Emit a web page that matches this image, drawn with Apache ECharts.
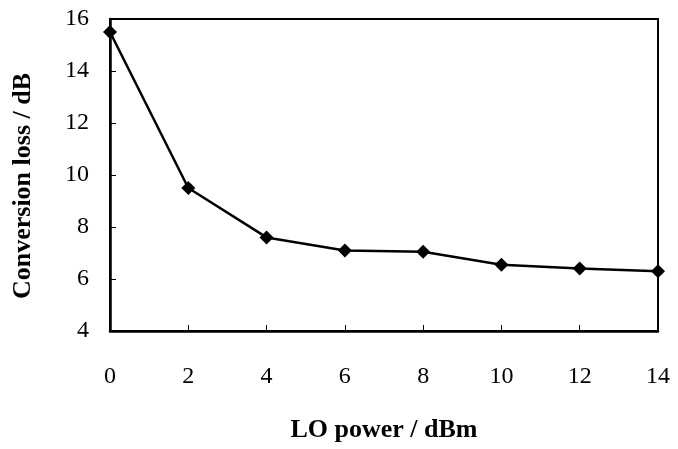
<!DOCTYPE html>
<html><head><meta charset="utf-8">
<script src="https://cdn.jsdelivr.net/npm/echarts@6/dist/echarts.min.js"></script>
<style>html,body{margin:0;padding:0;background:#fff}#c{width:678px;height:449px}</style>
</head><body><div id="c"></div>
<script>
const loPower = [0, 2, 4, 6, 8, 10, 12, 14];
const convLoss = [15.5, 9.5, 7.6, 7.1, 7.05, 6.55, 6.4, 6.3];
const xTitle = 'LO power / dBm';
const yTitle = 'Conversion loss / dB';

const chart = echarts.init(document.getElementById('c'));
const serif = 'Liberation Serif';
chart.setOption({
  backgroundColor: '#fff',
  animation: false,
  grid: { left: 110, right: 20, top: 19, bottom: 118, show: true, borderColor: '#000', borderWidth: 2,
          containLabel: false, outerBoundsMode: 'none' },
  xAxis: {
    type: 'value', min: 0, max: 14, interval: 2,
    name: xTitle, nameLocation: 'middle', nameGap: 86,
    nameTextStyle: { fontFamily: serif, fontSize: 26, fontWeight: 'bold', color: '#000' },
    axisLine: { lineStyle: { color: '#000', width: 2.5 } },
    axisTick: { inside: true, length: 6, lineStyle: { color: '#000' } },
    axisLabel: { fontFamily: serif, fontSize: 24, color: '#000', margin: 34 },
    splitLine: { show: false }
  },
  yAxis: {
    type: 'value', min: 4, max: 16, interval: 2,
    name: yTitle, nameLocation: 'middle', nameGap: 74,
    nameTextStyle: { fontFamily: serif, fontSize: 26, fontWeight: 'bold', color: '#000', padding: [0, 22, 0, 0] },
    axisLine: { lineStyle: { color: '#000', width: 2.5 } },
    axisTick: { inside: true, length: 6, lineStyle: { color: '#000' } },
    axisLabel: { fontFamily: serif, fontSize: 24, color: '#000', margin: 21 },
    splitLine: { show: false }
  },
  series: [{
    type: 'line',
    data: loPower.map((x, i) => [x, convLoss[i]]),
    symbol: 'diamond', symbolSize: 14,
    itemStyle: { color: '#000' },
    lineStyle: { color: '#000', width: 2.5 }
  }]
});
</script></body></html>
